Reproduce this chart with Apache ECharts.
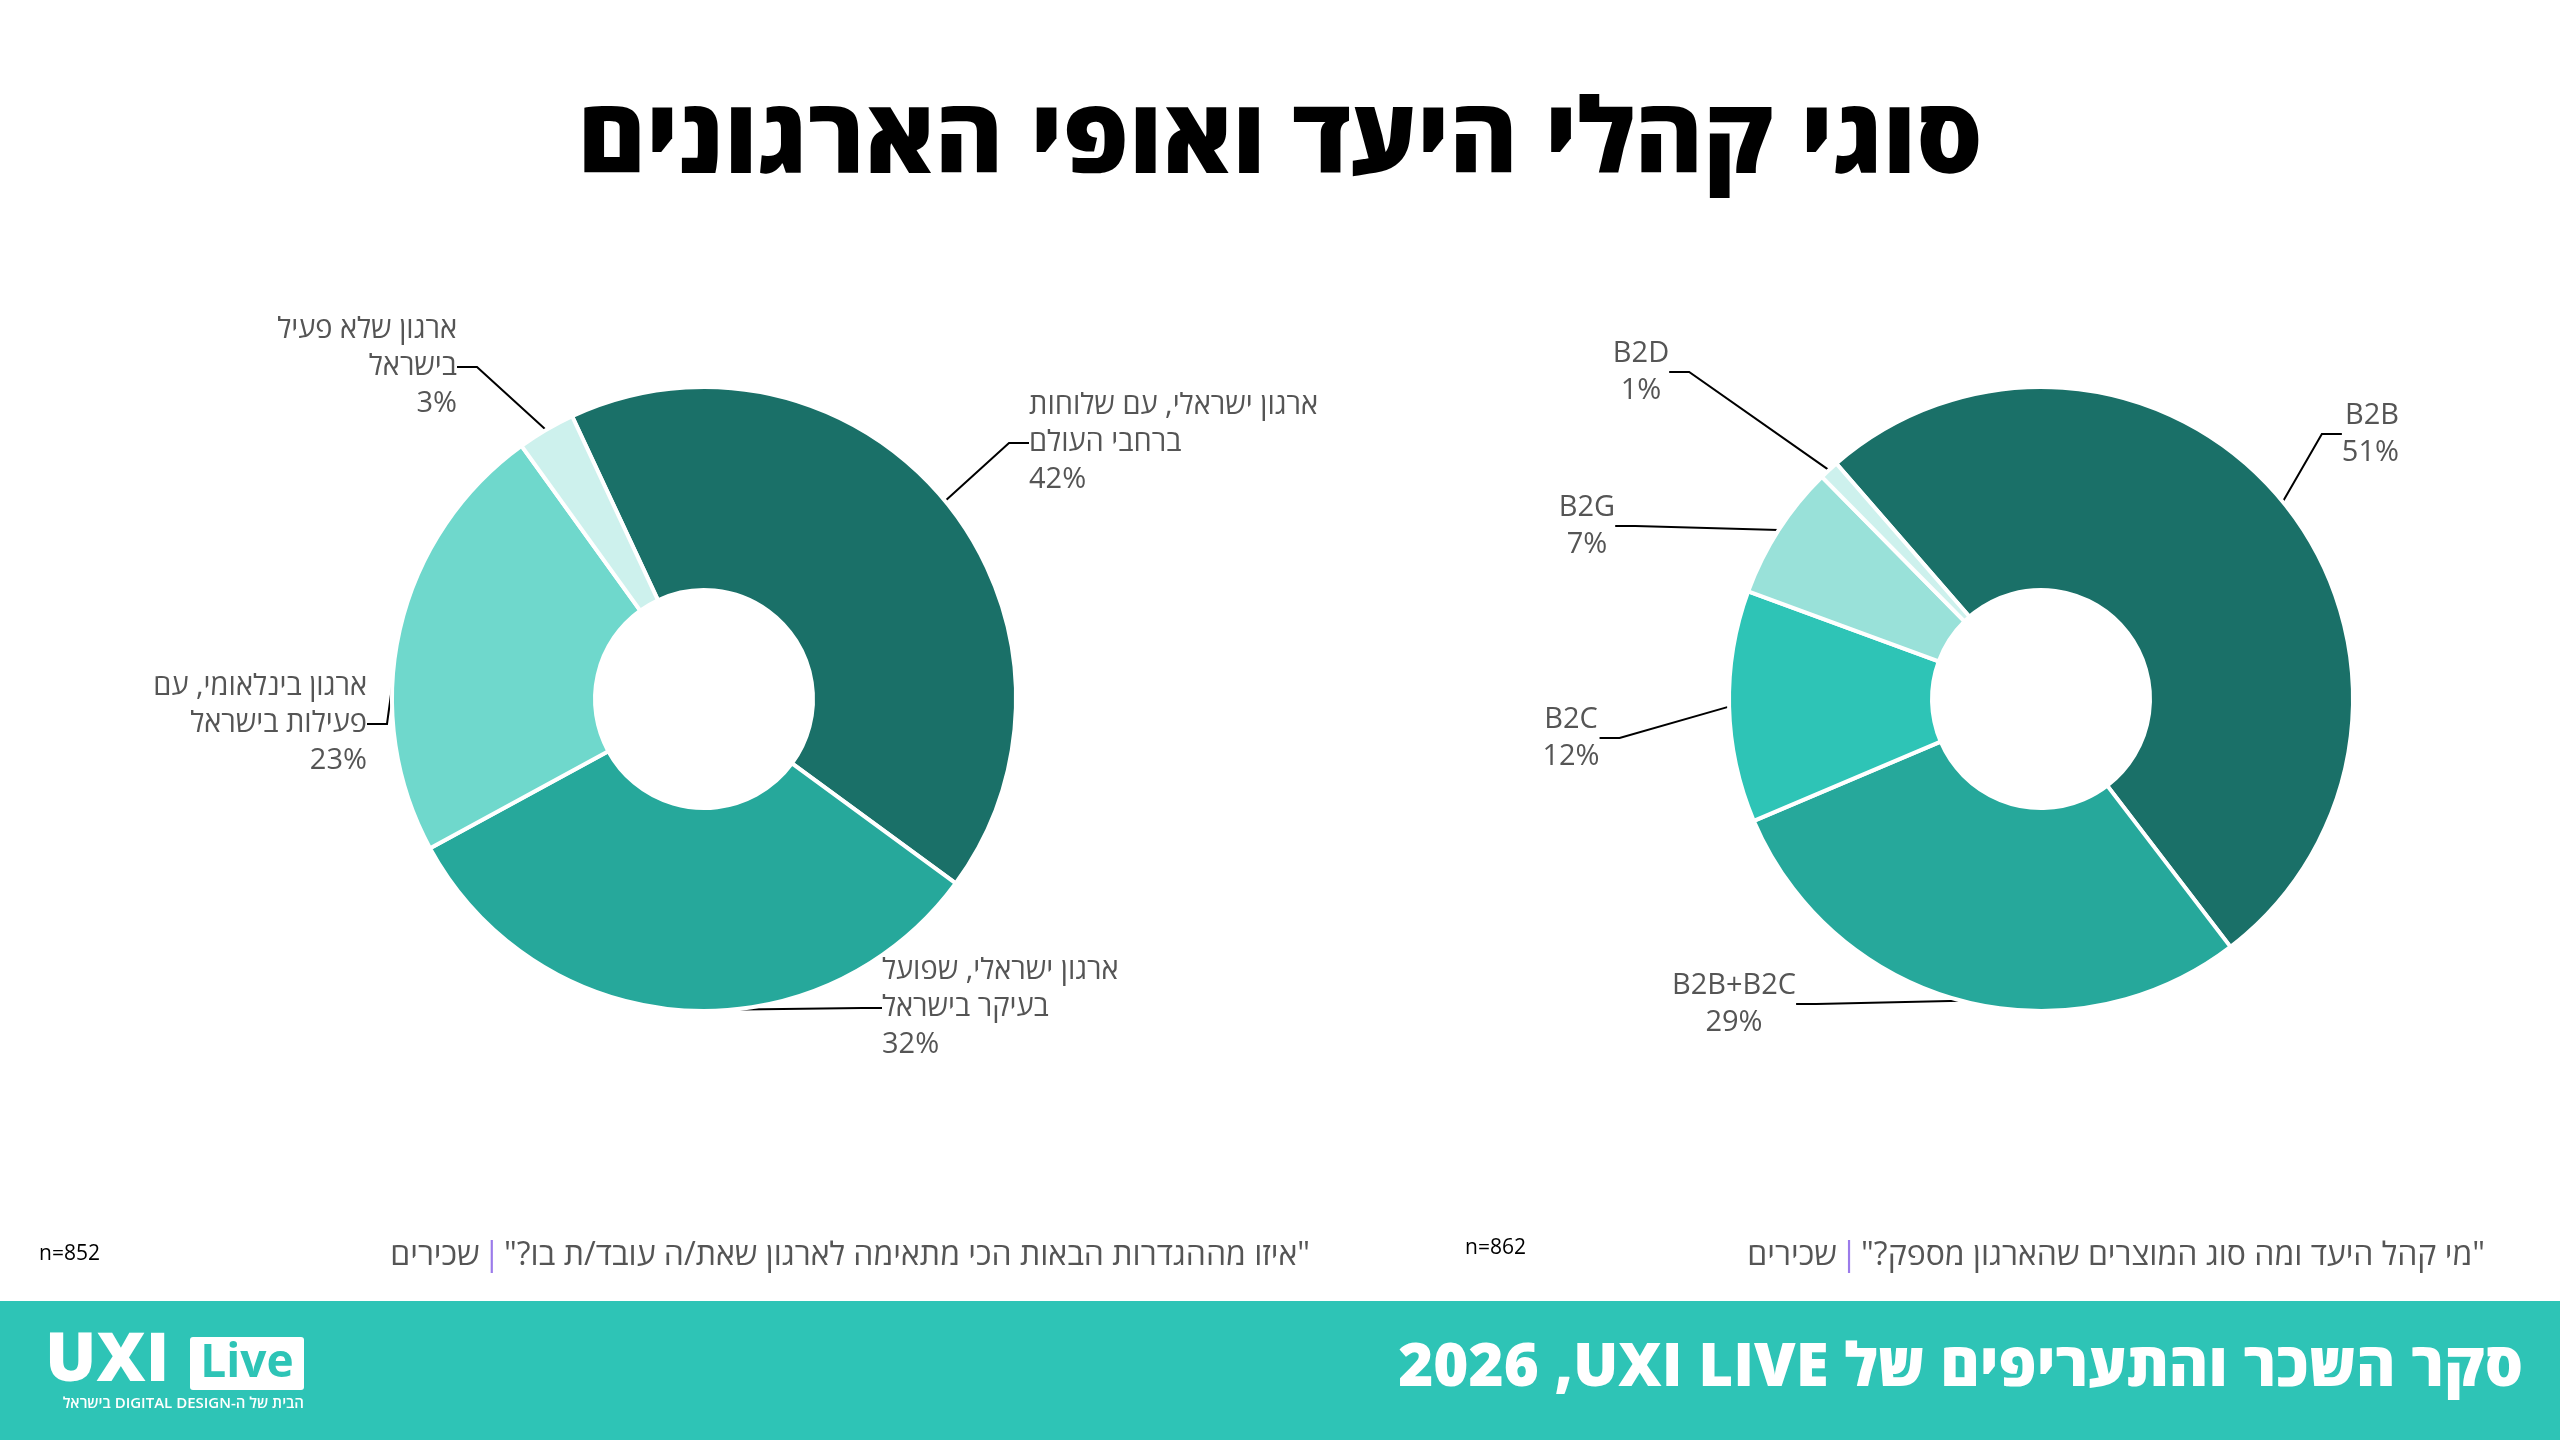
<!DOCTYPE html>
<html dir="rtl"><head><meta charset="utf-8">
<script src="https://cdn.jsdelivr.net/npm/echarts@6/dist/echarts.min.js"></script>
<style>html,body{margin:0;padding:0;background:#fff}#c{position:absolute;left:0;top:0;width:2560px;height:1440px}</style>
</head><body><div id="c"></div>
<script>
const orgNames = ['ארגון ישראלי, עם שלוחות\nברחבי העולם', 'ארגון ישראלי, שפועל\nבעיקר בישראל', 'ארגון בינלאומי, עם\nפעילות בישראל', 'ארגון שלא פעיל\nבישראל'];
const orgValues = [42, 32, 23, 3];
const orgColors = ['#1a7068', '#26a89b', '#6fd8cc', '#cdf1ed'];
const audNames = ['B2B', 'B2B+B2C', 'B2C', 'B2G', 'B2D'];
const audValues = [51, 29, 12, 7, 1];
const audColors = ['#1a7068', '#26a89b', '#2ec4b6', '#99e1d9', '#cdf1ed'];

const font = "'Open Sans','DejaVu Sans',sans-serif";
const orgLabelPos = [[1029,443,'left'],[882,1008,'left'],[367,724,'right'],[457,367,'right']];
const audLabelPos = [[2399,434,'right'],[1734,1004,'center'],[1571,738,'center'],[1587,526,'center'],[1641,372,'center']];

function pie(names, values, colors, center, start, pos){
  return {
    type:'pie', center:center, radius:[109,312], startAngle:start, clockwise:true,
    avoidLabelOverlap:false,
    data:names.map((n,i)=>({name:n, value:values[i], itemStyle:{color:colors[i]}})),
    itemStyle:{borderColor:'#fff', borderWidth:4},
    label:{show:true, formatter:p=>p.name+'\n'+p.value+'%', color:'#555', fontSize:29, lineHeight:37, fontFamily:font},
    labelLine:{show:true, length:20, length2:20, lineStyle:{color:'#000', width:2}},
    labelLayout:p=>{const q=pos[p.dataIndex];return {x:q[0], y:q[1], align:q[2], verticalAlign:'middle'};},
    emphasis:{disabled:true}, animation:false
  };
}
const rich = {a:{fill:'#555', fontSize:32, fontFamily:font}, b:{fill:'#9b7bea', fontSize:32, fontFamily:font}};
const chart = echarts.init(document.getElementById('c'));
chart.setOption({
  animation:false,
  title:{text:'סוגי קהלי היעד ואופי הארגונים', left:'center', top:86, textStyle:{fontSize:104, fontWeight:900, color:'#000', fontFamily:font}},
  graphic:[
    {type:'rect', shape:{x:0,y:1301,width:2560,height:139}, style:{fill:'#2ec4b6'}},
    {type:'text', x:2523, y:1369, style:{text:'{f|2026}{f|\u00A0}{f|,}{f|UXI LIVE}{f|\u00A0}{f|סקר השכר והתעריפים של}', textAlign:'right', textVerticalAlign:'middle', rich:{f:{fill:'#fff', fontSize:60, fontWeight:900, fontFamily:font}}}},
    {type:'text', x:45, y:1362, style:{text:'UXI', fill:'#fff', font:'900 68px '+font, textAlign:'left', textVerticalAlign:'middle'}},
    {type:'rect', shape:{x:190,y:1337,width:114,height:53,r:3}, style:{fill:'#fff'}},
    {type:'text', x:247, y:1364, style:{text:'Live', fill:'#2ec4b6', font:'700 46px '+font, textAlign:'center', textVerticalAlign:'middle'}},
    {type:'text', x:304, y:1404, style:{text:'הבית של ה-DIGITAL DESIGN בישראל', fill:'#fff', font:'600 15px '+font, textAlign:'right', textVerticalAlign:'middle'}},
    {type:'text', x:39, y:1254, style:{text:'n=852', fill:'#000', font:'21px '+font, textAlign:'left', textVerticalAlign:'middle'}},
    {type:'text', x:1465, y:1248, style:{text:'n=862', fill:'#000', font:'21px '+font, textAlign:'left', textVerticalAlign:'middle'}},
    {type:'text', x:1310, y:1256, style:{text:'{a|שכירים} {b||} {a|"איזו מההגדרות הבאות הכי מתאימה לארגון שאת/ה עובד/ת בו?"}', textAlign:'right', textVerticalAlign:'middle', rich:rich}},
    {type:'text', x:2485, y:1256, style:{text:'{a|שכירים} {b||} {a|"מי קהל היעד ומה סוג המוצרים שהארגון מספק?"}', textAlign:'right', textVerticalAlign:'middle', rich:rich}}
  ],
  series:[
    pie(orgNames, orgValues, orgColors, [704,699], 115, orgLabelPos),
    pie(audNames, audValues, audColors, [2041,699], 131, audLabelPos)
  ]
});
</script></body></html>
